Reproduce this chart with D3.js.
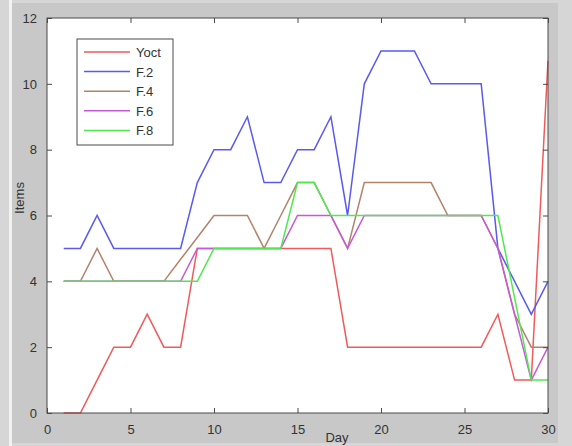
<!DOCTYPE html>
<html>
<head>
<meta charset="utf-8">
<script src="https://cdn.jsdelivr.net/npm/d3@7"></script>
<style>
body { margin: 0; background: #d6d6d6; }
text { font-family: "Liberation Sans", Arial, sans-serif; }
</style>
</head>
<body>
<div id="graph"></div>
<script>
// days 1..30
var days = [1,2,3,4,5,6,7,8,9,10,11,12,13,14,15,16,17,18,19,20,21,22,23,24,25,26,27,28,29,30];

var yoct = [0,0,1,2,2,3,2,2,5,5,5,5,5,5,5,5,5,2,2,2,2,2,2,2,2,2,3,1,1,10.7];
var f2   = [5,5,6,5,5,5,5,5,7,8,8,9,7,7,8,8,9,6,10,11,11,11,10,10,10,10,5,4,3,4];
var f4   = [4,4,5,4,4,4,4,4.67,5.33,6,6,6,5,6,7,7,6,5,7,7,7,7,7,6,6,6,5,3,2,2];
var f6   = [4,4,4,4,4,4,4,4,5,5,5,5,5,5,6,6,6,5,6,6,6,6,6,6,6,6,5,3,1,2];
var f8   = [4,4,4,4,4,4,4,4,4,5,5,5,5,5,7,7,6,6,6,6,6,6,6,6,6,6,6,3.5,1,1];

var seriesNames = ["Yoct", "F.2", "F.4", "F.6", "F.8"];
var seriesColors = ["#ef5a5a", "#5a5aef", "#b4826a", "#c65ad6", "#4fe84f"];
var xTicks = [0,5,10,15,20,25,30];
var yTicks = [0,2,4,6,8,10,12];

var W = 572, H = 446;
var plot = {left: 47, right: 548, top: 18, bottom: 413};

var x = d3.scaleLinear().domain([0, 30]).range([plot.left, plot.right]);
var y = d3.scaleLinear().domain([0, 12]).range([plot.bottom, plot.top]);

var svg = d3.select("#graph").append("svg")
    .attr("width", W)
    .attr("height", H);

// figure background
svg.append("rect").attr("x", 0).attr("y", 0).attr("width", W).attr("height", H).attr("fill", "#d6d6d6");
svg.append("rect").attr("x", 9).attr("y", 0).attr("width", 3).attr("height", H).attr("fill", "#f2f2f2");
svg.append("rect").attr("x", 12).attr("y", 3).attr("width", 546).attr("height", 440).attr("fill", "#c8c8c8");

// axes area
svg.append("rect")
    .attr("x", plot.left).attr("y", plot.top)
    .attr("width", plot.right - plot.left)
    .attr("height", plot.bottom - plot.top)
    .attr("fill", "#ffffff");

var lineGen = d3.line()
    .x(function(d, i) { return x(days[i]); })
    .y(function(d) { return y(d); })
    .curve(d3.curveLinear);

var allSeries = [yoct, f2, f4, f6, f8];
allSeries.forEach(function(s, k) {
    svg.append("path")
        .attr("d", lineGen(s))
        .attr("fill", "none")
        .attr("stroke", seriesColors[k])
        .attr("stroke-width", 1.5);
});

// box
svg.append("rect")
    .attr("x", plot.left).attr("y", plot.top)
    .attr("width", plot.right - plot.left)
    .attr("height", plot.bottom - plot.top)
    .attr("fill", "none")
    .attr("stroke", "#4a4a4a")
    .attr("stroke-width", 1);

// axes with inward ticks
var ax = svg.append("g")
    .attr("transform", "translate(0," + plot.bottom + ")")
    .call(d3.axisBottom(x).tickValues(xTicks).tickSize(-5).tickPadding(12).tickFormat(d3.format("d")));
var axTop = svg.append("g")
    .attr("transform", "translate(0," + plot.top + ")")
    .call(d3.axisTop(x).tickValues(xTicks).tickSize(-5).tickFormat(""));
var ay = svg.append("g")
    .attr("transform", "translate(" + plot.left + ",0)")
    .call(d3.axisLeft(y).tickValues(yTicks).tickSize(-5).tickPadding(10).tickFormat(d3.format("d")));
var ayRight = svg.append("g")
    .attr("transform", "translate(" + plot.right + ",0)")
    .call(d3.axisRight(y).tickValues(yTicks).tickSize(-5).tickFormat(""));

[ax, axTop, ay, ayRight].forEach(function(g) {
    g.select(".domain").remove();
    g.selectAll("line").attr("stroke", "#4a4a4a");
    g.selectAll("text").attr("fill", "#333").style("font-size", "13px");
});

// axis labels
svg.append("text")
    .attr("x", 337).attr("y", 442)
    .attr("text-anchor", "middle")
    .attr("fill", "#333")
    .style("font-size", "13px")
    .text("Day");

svg.append("text")
    .attr("transform", "translate(24,198) rotate(-90)")
    .attr("text-anchor", "middle")
    .attr("fill", "#333")
    .style("font-size", "13px")
    .text("Items");

// legend
var legend = svg.append("g");
legend.append("rect")
    .attr("x", 77).attr("y", 39)
    .attr("width", 96).attr("height", 106)
    .attr("fill", "#ffffff")
    .attr("stroke", "#4a4a4a");

seriesNames.forEach(function(name, k) {
    var ly = 52 + k * 19.6;
    legend.append("line")
        .attr("x1", 84).attr("x2", 130)
        .attr("y1", ly).attr("y2", ly)
        .attr("stroke", seriesColors[k])
        .attr("stroke-width", 1.5);
    legend.append("text")
        .attr("x", 136).attr("y", ly + 5)
        .attr("fill", "#333")
        .style("font-size", "13px")
        .text(name);
});
</script>
</body>
</html>
